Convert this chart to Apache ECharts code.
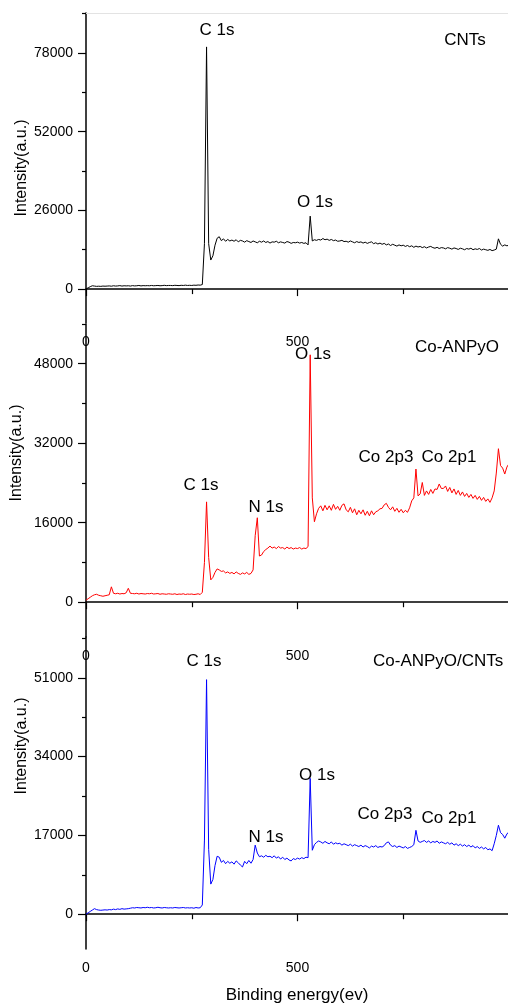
<!DOCTYPE html>
<html>
<head>
<meta charset="utf-8">
<script src="https://cdn.jsdelivr.net/npm/echarts@6/dist/echarts.min.js"></script>
<style>
  html, body { margin: 0; padding: 0; background: #fff; }
  #chart { width: 508px; height: 1007px; }
</style>
</head>
<body>
<div id="chart"></div>
<script>
// binding energy (eV), shared by the three spectra
var energy = [
  0, 5, 10, 15, 20, 25, 30, 35, 40, 45,
  50, 55, 60, 65, 70, 75, 80, 85, 90, 95,
  100, 105, 110, 115, 120, 125, 130, 135, 140, 145,
  150, 155, 160, 165, 170, 175, 180, 185, 190, 195,
  200, 205, 210, 215, 220, 225, 230, 235, 240, 245,
  250, 255, 260, 265, 270, 275, 280, 285, 290, 295,
  300, 305, 310, 315, 320, 325, 330, 335, 340, 345,
  350, 355, 360, 365, 370, 375, 380, 385, 390, 395,
  400, 405, 410, 415, 420, 425, 430, 435, 440, 445,
  450, 455, 460, 465, 470, 475, 480, 485, 490, 495,
  500, 505, 510, 515, 520, 525, 530, 535, 540, 545,
  550, 555, 560, 565, 570, 575, 580, 585, 590, 595,
  600, 605, 610, 615, 620, 625, 630, 635, 640, 645,
  650, 655, 660, 665, 670, 675, 680, 685, 690, 695,
  700, 705, 710, 715, 720, 725, 730, 735, 740, 745,
  750, 755, 760, 765, 770, 775, 780, 785, 790, 795,
  800, 805, 810, 815, 820, 825, 830, 835, 840, 845,
  850, 855, 860, 865, 870, 875, 880, 885, 890, 895,
  900, 905, 910, 915, 920, 925, 930, 935, 940, 945,
  950, 955, 960, 965, 970, 975, 980, 985, 990, 995,
  1000
];

// CNTs (black)
var cnts = [
  100, 400, 800, 1100, 1000, 900, 950, 900, 1000, 950,
  1000, 1050, 950, 1100, 1000, 1050, 1150, 1000, 1100, 1050,
  1100, 1000, 1150, 1050, 1100, 1200, 1050, 1150, 1100, 1150,
  1100, 1200, 1100, 1150, 1200, 1100, 1150, 1250, 1150, 1200,
  1200, 1150, 1250, 1200, 1150, 1250, 1200, 1300, 1200, 1250,
  1200, 1300, 1250, 1350, 1300, 1500, 15000, 80000, 15000, 9600,
  11000, 14500, 16800, 17300, 16000, 16600, 15800, 16400, 15900, 16200,
  15800, 16300, 15600, 16100, 15900, 15500, 16000, 15700, 15400, 15900,
  15600, 15300, 15800, 15500, 15900, 15400, 15700, 15200, 15600, 15500,
  15800, 15300, 15600, 15400, 15200, 15700, 15500, 15100, 15400, 15300,
  15500, 15200, 15400, 15100, 15300, 14600, 24100, 15900, 16300, 16100,
  16400, 16200, 16700, 16300, 16500, 16100, 16400, 16000, 16200, 15800,
  15900, 16100, 15700, 15800, 15500, 15900, 15600, 15300, 15700, 15400,
  15600, 15200, 15500, 15100, 15400, 15600, 15000, 15300, 14900, 15200,
  14800, 15100, 14600, 14900, 14400, 14800, 14500, 14200, 14600, 14300,
  14500, 14100, 14400, 14000, 14300, 13800, 14200, 13900, 14100, 13700,
  14000, 13600, 13900, 14100, 13700, 13500, 13800, 13400, 13700, 13600,
  13300, 13700, 13500, 13200, 13600, 13400, 13100, 13500, 13300, 13000,
  13400, 13200, 13500, 13000, 13300, 13100, 13400, 12900, 13200, 13000,
  12800, 13100, 12700, 12900, 13200, 16600, 14800, 14200, 14600, 14300,
  14500
];

// Co-ANPyO (red)
var coAnpyo = [
  400, 700, 1000, 1300, 1500, 1600, 1400, 1300, 1200, 1300,
  1400, 1500, 3100, 1800, 1700, 1800, 1650, 1750, 1700, 1900,
  2800, 1800, 1750, 1700, 1800, 1650, 1750, 1700, 1650, 1750,
  1700, 1800, 1650, 1700, 1750, 1600, 1700, 1650, 1600, 1700,
  1650, 1600, 1700, 1550, 1650, 1600, 1700, 1550, 1650, 1600,
  1650, 1550, 1600, 1700, 1550, 2000, 8000, 20200, 9000, 4500,
  5000, 6000, 6700, 6500, 6200, 6300, 5900, 6100, 5800, 6000,
  5700, 6100, 5800, 5600, 5900, 5700, 6000, 5600, 5800, 6500,
  13400, 17000, 9300, 9500, 10200, 10600, 10900, 11300, 10900, 11100,
  10800, 11200, 10900, 11000, 10700, 11100, 10800, 11000, 10700, 10900,
  10800, 11000, 10700, 10900, 10800, 11200, 49800, 21000, 16200, 17800,
  18900, 19400, 18400, 19500, 18600, 19400, 18500, 19700, 18700, 19300,
  18500, 19500, 19800, 18600, 18200, 19100, 18000, 18800, 17600, 18500,
  17800, 18600, 17500, 18300, 17400, 18400, 17600, 18200, 18400, 18800,
  18900, 19600, 19900, 19100, 18600, 19200, 18300, 18900, 18100, 18700,
  18000, 18500, 18100, 19000, 20400, 21000, 26800, 21400, 21800, 24100,
  21500, 22400, 21700, 22700, 21900, 22800, 22700, 23800, 22900, 22900,
  23400, 22300, 23100, 22000, 22800, 21700, 22500, 21500, 22200, 21300,
  21900, 21100, 21700, 20900, 21500, 20700, 21300, 20500, 21100, 20300,
  20800, 20100, 21000, 22400, 26000, 30900, 27500, 27000, 25800, 27200,
  27900
];

// Co-ANPyO/CNTs (blue)
var coAnpyoCnts = [
  0, 300, 600, 900, 1200, 1000, 900, 850, 900, 950,
  900, 1000, 950, 1100, 1000, 1150, 1050, 1200, 1100, 1150,
  1200, 1300, 1400, 1350, 1450, 1400, 1350, 1450, 1400, 1500,
  1400, 1450, 1350, 1400, 1500, 1400, 1350, 1450, 1400, 1350,
  1400, 1350, 1450, 1400, 1350, 1400, 1450, 1350, 1400, 1350,
  1400, 1300, 1450, 1350, 1400, 2000, 16000, 50600, 14000, 6500,
  7500, 10500, 12500, 12300, 11200, 11600, 10900, 11400, 11000, 11300,
  10800, 11500, 11100, 10600, 10200, 11400, 10900, 11600, 11000, 11800,
  14900, 13200, 12400, 12600, 12300, 12700, 12400, 12500, 12200, 12600,
  12100, 12400, 11900, 12300, 11800, 12100, 11700, 11500, 12000, 11800,
  12100, 11900, 12200, 12000, 12300, 12200, 29300, 13800, 15000, 15500,
  15800, 15600, 15300, 15700, 15400, 15200, 15600, 15100, 15400, 15200,
  15300, 14900, 15200, 15000, 14800, 15100, 14700, 15000, 14800, 14600,
  14900, 14500, 14800, 14600, 14300, 14700, 14500, 14800, 14400, 14600,
  14500, 14800, 15400, 15600, 14900, 14600, 14800, 14400, 14700, 14500,
  14300, 14600, 14200, 14400, 14600, 15000, 18100, 15800, 15500, 15700,
  15900, 15500, 15800, 15400, 15700, 15500, 15800, 15300, 15600, 15400,
  15200, 15500, 15100, 15400, 14900, 15200, 14800, 15100, 14700, 15000,
  14600, 14900, 14500, 14800, 14300, 14600, 14200, 14500, 14100, 14400,
  13900, 14100, 13700, 15200, 17000, 19200, 17600, 17200, 16400, 17300,
  17800
];

// tick labels / tick positions
var xLabels = [0, 500, 1000];
var xMinor = [250, 750];
var yLabels1 = [0, 26000, 52000, 78000];
var yLabels2 = [0, 16000, 32000, 48000];
var yLabels3 = [0, 17000, 34000, 51000];
var yMinor1 = [13000, 39000, 65000, 91000];
var yMinor2 = [8000, 24000, 40000, 56000];
var yMinor3 = [8500, 25500, 42500, 59500];

var FONT = '"Liberation Sans", Arial, sans-serif';

function pairs(ys) {
  return energy.map(function (e, i) { return [e, ys[i]]; });
}

function plain(v) {
  return v === 1000 ? '' : String(v);
}

function xAxis(idx) {
  return {
    type: 'value', gridIndex: idx, position: 'bottom', min: 0, max: 1000,
    axisLine: { show: true, lineStyle: { color: '#000', width: 1.5 } },
    axisTick: { show: true, length: 7, customValues: xLabels, lineStyle: { color: '#000', width: 1.2 } },
    axisLabel: { customValues: xLabels, formatter: plain, color: '#000', fontSize: 14, fontFamily: FONT, margin: 12 },
    splitLine: { show: false }
  };
}

// extra axis only carrying the short minor ticks
function xMinorAxis(idx) {
  return {
    type: 'value', gridIndex: idx, position: 'bottom', min: 0, max: 1000,
    axisLine: { show: false },
    axisTick: { show: true, length: 5, customValues: xMinor, lineStyle: { color: '#000', width: 1.2 } },
    axisLabel: { show: false }, splitLine: { show: false }
  };
}

function yAxis(idx, min, max, labels) {
  return {
    type: 'value', gridIndex: idx, position: 'left', min: min, max: max,
    axisLine: { show: true, lineStyle: { color: '#000', width: 1.5 } },
    axisTick: { show: true, length: 8, customValues: labels, lineStyle: { color: '#000', width: 1.2 } },
    axisLabel: { customValues: labels, formatter: plain, color: '#000', fontSize: 14, fontFamily: FONT, margin: 13 },
    splitLine: { show: false }
  };
}

function yMinorAxis(idx, min, max, ticks) {
  return {
    type: 'value', gridIndex: idx, position: 'left', min: min, max: max,
    axisLine: { show: false },
    axisTick: { show: true, length: 4, customValues: ticks, lineStyle: { color: '#000', width: 1.2 } },
    axisLabel: { show: false }, splitLine: { show: false }
  };
}

function line(idx, ys, color) {
  return {
    type: 'line', xAxisIndex: idx, yAxisIndex: idx, data: pairs(ys),
    showSymbol: false, symbol: 'none', lineStyle: { color: color, width: 1 },
    animation: false
  };
}

function label(text, x, y, align, size, rotate) {
  return {
    type: 'text', x: x, y: y, z: 100, rotation: rotate || 0,
    style: { text: text, fill: '#000', font: (size || 17) + 'px ' + FONT, align: align || 'center', verticalAlign: 'middle' }
  };
}

var gridBase = { left: 86, width: 423, containLabel: false, outerBoundsMode: 'none' };

var chart = echarts.init(document.getElementById('chart'), null, { renderer: 'canvas' });
chart.setOption({
  backgroundColor: '#fff',
  animation: false,
  grid: [
    Object.assign({ top: 13, height: 310 }, gridBase),
    Object.assign({ top: 324, height: 313 }, gridBase),
    Object.assign({ top: 637, height: 312 }, gridBase)
  ],
  xAxis: [
    xAxis(0),
    xAxis(1),
    xAxis(2),
    xMinorAxis(0),
    xMinorAxis(1),
    xMinorAxis(2),
    // faint top frame of the first panel
    { type: 'value', gridIndex: 0, position: 'top', min: 0, max: 1000,
      axisLine: { show: true, lineStyle: { color: '#e3e3e3', width: 1 } },
      axisTick: { show: false }, axisLabel: { show: false }, splitLine: { show: false } }
  ],
  yAxis: [
    yAxis(0, -11200, 91200, yLabels1),
    yAxis(1, -7000, 56000, yLabels2),
    yAxis(2, -7500, 59800, yLabels3),
    yMinorAxis(0, -11200, 91200, yMinor1),
    yMinorAxis(1, -7000, 56000, yMinor2),
    yMinorAxis(2, -7500, 59800, yMinor3)
  ],
  series: [
    line(0, cnts, '#000000'),
    line(1, coAnpyo, '#ff0000'),
    line(2, coAnpyoCnts, '#0000ff')
  ],
  graphic: [
    // axis titles
    label('Intensity(a.u.)', 22, 168, 'center', 16, Math.PI / 2),
    label('Intensity(a.u.)', 17, 453, 'center', 16, Math.PI / 2),
    label('Intensity(a.u.)', 22, 746, 'center', 16, Math.PI / 2),
    label('Binding energy(ev)', 297, 995),
    // peak and sample labels
    label('C 1s', 217, 30),
    label('CNTs', 465, 40),
    label('O 1s', 315, 202),
    label('C 1s', 201, 485),
    label('N 1s', 266, 507),
    label('O 1s', 313, 354),
    label('Co 2p3', 386, 457),
    label('Co 2p1', 449, 457),
    label('Co-ANPyO', 457, 347),
    label('C 1s', 204, 661),
    label('N 1s', 266, 837),
    label('O 1s', 317, 775),
    label('Co 2p3', 385, 814),
    label('Co 2p1', 449, 818),
    label('Co-ANPyO/CNTs', 373, 661, 'left')
  ]
});
</script>
</body>
</html>
